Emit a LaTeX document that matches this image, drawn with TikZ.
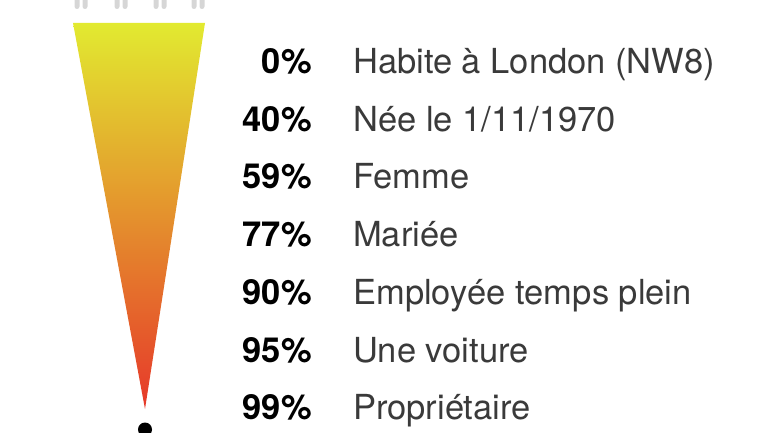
\documentclass[tikz,border=0pt]{standalone}
\usepackage{fontspec}
\setmainfont{TeX Gyre Heros}
\definecolor{fyellow}{HTML}{E2EA30}
\definecolor{forange}{HTML}{E6A032}
\definecolor{fred}{HTML}{E6382A}
\definecolor{leggray}{HTML}{D6D6D6}
\definecolor{labgray}{HTML}{3A3A3A}
\tikzset{
  pct/.style={anchor=base east, font=\fontsize{34.5}{36}\selectfont\bfseries, text=black, inner sep=0pt},
  lab/.style={anchor=base west, font=\fontsize{34.5}{36}\selectfont, text=labgray, inner sep=0pt},
  leg/.style={fill=leggray, rounded corners=2.5pt},
}
\begin{document}
\begin{tikzpicture}[x=1pt,y=-1pt]
\useasboundingbox (0,0) rectangle (770,433);
% legs of figures
\foreach \c in {81,121,160,198}{
  \fill[leg] (\c-6.5,-6) rectangle (\c-1.5,9);
  \fill[leg] (\c+1.5,-6) rectangle (\c+6.5,9);
}
% funnel
\shade[top color=fyellow, middle color=forange, bottom color=fred]
  (73,23) -- (205,23) -- (145,409) -- cycle;
% dot
\fill[black] (145,429.5) circle[radius=7pt];
% rows
\node[pct] (p0) at (312,73.5)  {0\%};
\node[lab] (l0) at (353,73.5)  {Habite à London (NW8)};
\node[pct] (p1) at (312,131.2) {40\%};
\node[lab] (l1) at (353,131.2) {Née le 1/11/1970};
\node[pct] (p2) at (312,188.9) {59\%};
\node[lab] (l2) at (353,188.9) {Femme};
\node[pct] (p3) at (312,246.6) {77\%};
\node[lab] (l3) at (353,246.6) {Mariée};
\node[pct] (p4) at (312,304.3) {90\%};
\node[lab] (l4) at (353,304.3) {Employée temps plein};
\node[pct] (p5) at (312,362.0) {95\%};
\node[lab] (l5) at (353,362.0) {Une voiture};
\node[pct] (p6) at (312,419.7) {99\%};
\node[lab] (l6) at (353,419.7) {Propriétaire};
\end{tikzpicture}
\end{document}
